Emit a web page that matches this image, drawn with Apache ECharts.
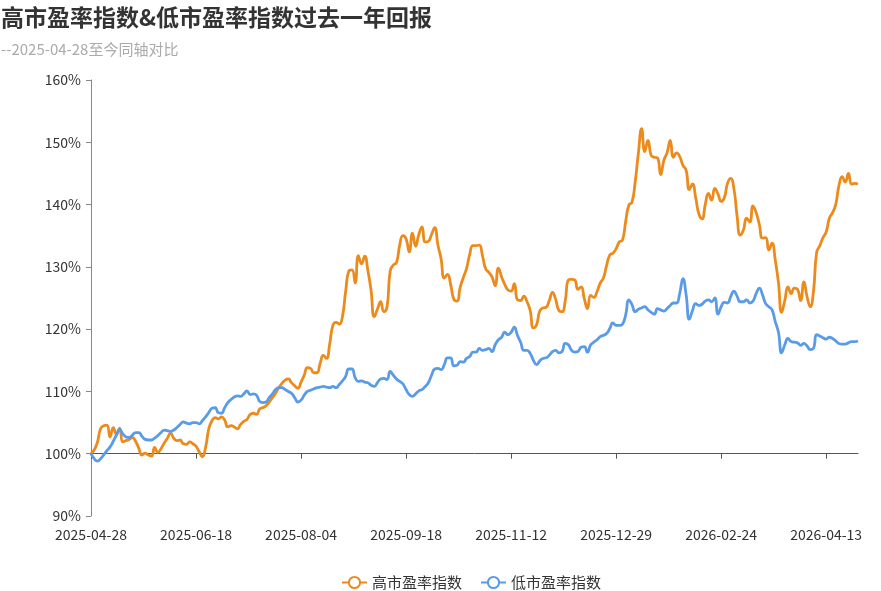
<!DOCTYPE html>
<html>
<head>
<meta charset="utf-8">
<title>高市盈率指数&低市盈率指数过去一年回报</title>
<script src="https://cdn.jsdelivr.net/npm/echarts@6/dist/echarts.min.js"></script>
<style>
  html, body { margin: 0; padding: 0; background: #fff; }
  #chart-panel { width: 881px; height: 591px; }
</style>
</head>
<body>
<div id="chart-panel"></div>
<script>
// 交易日：从起始日逐个工作日，跳过休市日
const startDate = "2025-04-28"
const endDate = "2026-04-27"
const holidays = [
  "2025-05-01", "2025-05-02", "2025-05-05", "2025-06-02",
  "2025-10-01", "2025-10-02", "2025-10-03", "2025-10-06", "2025-10-07", "2025-10-08",
  "2026-01-01", "2026-01-02",
  "2026-02-16", "2026-02-17", "2026-02-18", "2026-02-19", "2026-02-20", "2026-02-23",
  "2026-04-06"
]

// 高市盈率指数（%，起点=100）
const highPE = [
  100, 100.6, 101.8, 104, 104.5, 104.6, 102.7, 104.2, 103.1, 104.1,
  101.9, 102.1, 102.3, 102.6, 102, 100.9, 99.8, 100.1, 99.8, 99.6,
  101, 100.2, 100.8, 101.7, 102.5, 103.3, 102.5, 102.1, 102.2, 101.6,
  101.5, 101.9, 101.6, 101.2, 100.3, 99.5, 101, 104, 105.3, 105.8,
  105.6, 105.9, 105.4, 104.3, 104.5, 104.3, 104, 104.7, 105.2, 105.5,
  106.3, 106.5, 106.3, 107.2, 107.4, 107.7, 108.3, 109, 109.7, 110.6,
  111.3, 111.8, 112, 111.4, 110.9, 110.5, 111.5, 112.6, 113.8, 113.7,
  113, 113, 114.5, 115.8, 115.3, 117.6, 120.6, 121.1, 120.8, 122,
  126, 129.3, 129.5, 127.4, 131.8, 130.5, 131.7, 129.4, 126.2, 122,
  123.2, 124.4, 122.8, 123.5, 129.3, 130.3, 130.7, 133.5, 135, 134.5,
  132.4, 135.4, 133.3, 135.2, 136.4, 134, 134.1, 135.2, 136.3, 133.5,
  131.3, 128.2, 128.8, 127.2, 124.8, 124.5, 126.7, 128.3, 129.7, 132,
  133.4, 133.4, 133.5, 131.8, 129.7, 129.1, 128.4, 127, 129.8, 128.4,
  127.2, 126.3, 126.1, 127.3, 124.7, 124.6, 125.3, 124.4, 123, 120.2,
  120.7, 122.9, 123.4, 123.5, 124.6, 125.9, 124.8, 123, 122.8, 124.5,
  127.9, 128, 127.9, 126.4, 126.8, 124.9, 123.3, 125.4, 125.1, 126,
  127.4, 128.2, 130.2, 131.9, 132.2, 132.9, 134, 134.3, 137.3, 139.9,
  140.4, 143.7, 148.3, 152.2, 148.5, 150.3, 147.9, 147.6, 147.5, 144.8,
  147.1, 148.3, 150.3, 147.6, 148.3, 147.7, 146.3, 145.5, 142.4, 143.3,
  141.1, 138.5, 137.7, 140, 141.8, 140.7, 142.6, 141.7, 140.5, 141.1,
  143.4, 144.2, 142.6, 138.2, 135.1, 135.9, 137.8, 137.2, 139.8, 138.7,
  136.8, 134.6, 134.7, 132.7, 133.8, 131.1, 127.5, 122.7, 124.6, 126.8,
  125.7, 126.6, 126.4, 124.6, 127.6, 125.2, 123.6, 126, 132.3, 133.4,
  134.7, 135.6, 137.8, 138.7, 140, 143, 144.5, 143.6, 145, 143.3,
  143.4, 143.3
]

// 低市盈率指数（%，起点=100）
const lowPE = [
  100, 99.2, 98.8, 99.2, 99.8, 100.5, 101.1, 102, 103, 103.9,
  103.2, 102.7, 102.6, 103, 103.4, 103.4, 102.8, 102.3, 102.2, 102.2,
  102.5, 102.9, 103.4, 103.8, 103.7, 103.6, 103.8, 104.2, 104.7, 105.1,
  104.9, 104.8, 105, 105, 104.8, 105.3, 105.9, 106.6, 107.3, 107.4,
  106.6, 106.5, 107.4, 108.2, 108.7, 109.1, 109.3, 109.2, 109.6, 110.1,
  109.5, 109.6, 109.4, 108.4, 108.2, 108.3, 109, 109.6, 110.3, 110.6,
  110.6, 110.3, 110, 109.7, 109, 108.3, 108.6, 109.4, 110, 110.2,
  110.4, 110.6, 110.7, 110.8, 110.7, 110.6, 110.8, 110.6, 111.1, 111.7,
  112.4, 113.6, 113.6, 112.2, 111.6, 111.7, 111.5, 111.4, 111, 110.8,
  111.4, 112, 112.1, 111.9, 113.2, 112.6, 112, 111.6, 111.2, 110.3,
  109.5, 109.2, 109.6, 110.1, 110.3, 110.8, 111.4, 112.6, 113.6, 113.7,
  113.5, 114.3, 115.4, 115.4, 114.1, 114.2, 114.8, 114.7, 115.3, 115.6,
  116.3, 116.3, 116.9, 116.6, 116.7, 116.9, 116.4, 117.5, 118.3, 118.7,
  119.5, 119.1, 119.5, 120.3, 119, 117.9, 116.6, 116.6, 116.1, 115,
  114.3, 114.9, 115.3, 115.4, 115.8, 116.4, 116.6, 116.2, 116.4, 117.7,
  117.5, 116.6, 116.3, 116.4, 117.1, 117.2, 116.3, 117.5, 117.9, 118.3,
  118.8, 119, 119.3, 120.1, 121, 120.6, 120.6, 120.8, 122.3, 124.7,
  123.9, 122.8, 123.2, 123.4, 123.6, 123.1, 122.7, 122.4, 123.3, 123.1,
  122.9, 123.3, 123.8, 124.2, 124.2, 125.8, 128.1, 125.5, 121.6, 123,
  124.1, 123.8, 124, 124.5, 124.7, 124.4, 125, 122.4, 123.6, 124.3,
  124.2, 125.2, 126.1, 125.3, 124.4, 124.4, 124.7, 124.2, 124.5, 125.7,
  126.6, 125.5, 124.1, 123.6, 123.1, 121.2, 119.5, 116.2, 117.5, 118.5,
  118, 117.9, 117.8, 117.4, 117.7, 117.3, 116.7, 116.9, 119.1, 118.9,
  118.6, 118.4, 118.7, 118.5, 118.1, 117.7, 117.6, 117.6, 117.8, 118,
  118, 118.1
]

const seriesNames = ["高市盈率指数", "低市盈率指数"]
const colors = ["#EC8A1C", "#5A9BE8"]

const pad = (n) => (n < 10 ? "0" + n : "" + n)
const buildDates = () => {
  const out = []
  const d = new Date(startDate + "T00:00:00Z")
  const end = new Date(endDate + "T00:00:00Z")
  while (d <= end) {
    const s = d.getUTCFullYear() + "-" + pad(d.getUTCMonth() + 1) + "-" + pad(d.getUTCDate())
    const wd = d.getUTCDay()
    if (wd !== 0 && wd !== 6 && holidays.indexOf(s) < 0) out.push(s)
    d.setUTCDate(d.getUTCDate() + 1)
  }
  return out
}
const dates = buildDates()

// 以 100% 为基线（x 轴压在 100% 上）
const toReturn = (arr) => arr.map((v) => +(v - 100).toFixed(2))

const font = "'Noto Sans CJK SC', 'Noto Sans', sans-serif"
const chart = echarts.init(document.getElementById("chart-panel"), null, { renderer: "canvas" })

const option = {
  animation: false,
  color: colors,
  textStyle: { fontFamily: font },
  title: {
    text: "高市盈率指数&低市盈率指数过去一年回报",
    subtext: "--" + startDate + "至今同轴对比",
    left: 0,
    top: 0,
    padding: [6, 5, 5, 1],
    itemGap: 13,
    textStyle: { fontSize: 23, fontWeight: "bold", color: "#333", fontFamily: font },
    subtextStyle: { fontSize: 15, color: "#aaa", fontFamily: font }
  },
  legend: {
    data: seriesNames,
    left: 336,
    top: 570,
    itemWidth: 25,
    itemHeight: 14,
    itemGap: 18,
    textStyle: { fontSize: 15, color: "#333" }
  },
  grid: { left: 91, right: 23, top: 80, bottom: 75 },
  xAxis: [
    {
      type: "category",
      data: dates,
      boundaryGap: false,
      axisLine: { onZero: true, lineStyle: { color: "#555", width: 1 } },
      axisTick: { show: true, interval: 32, length: 5, lineStyle: { color: "#555" } },
      axisLabel: { show: false },
      splitLine: { show: false }
    },
    {
      type: "category",
      data: dates,
      position: "bottom",
      boundaryGap: false,
      axisLine: { show: false, onZero: false },
      axisTick: { show: false },
      axisLabel: { interval: 32, margin: 12, fontSize: 14, color: "#333" },
      splitLine: { show: false }
    }
  ],
  yAxis: {
    type: "value",
    min: -10,
    max: 60,
    interval: 10,
    axisLine: { show: true, lineStyle: { color: "#888" } },
    axisTick: { show: true, length: 5, lineStyle: { color: "#888" } },
    axisLabel: {
      margin: 10,
      fontSize: 14,
      color: "#333",
      formatter: (v) => v + 100 + "%"
    },
    splitLine: { show: false }
  },
  series: [
    {
      name: seriesNames[0],
      type: "line",
      xAxisIndex: 0,
      data: toReturn(highPE),
      smooth: true,
      showSymbol: false,
      symbol: "emptyCircle",
      lineStyle: { width: 2.8 }
    },
    {
      name: seriesNames[1],
      type: "line",
      xAxisIndex: 0,
      data: toReturn(lowPE),
      smooth: true,
      showSymbol: false,
      symbol: "emptyCircle",
      lineStyle: { width: 2.8 }
    }
  ]
}
chart.setOption(option)
</script>
</body>
</html>
